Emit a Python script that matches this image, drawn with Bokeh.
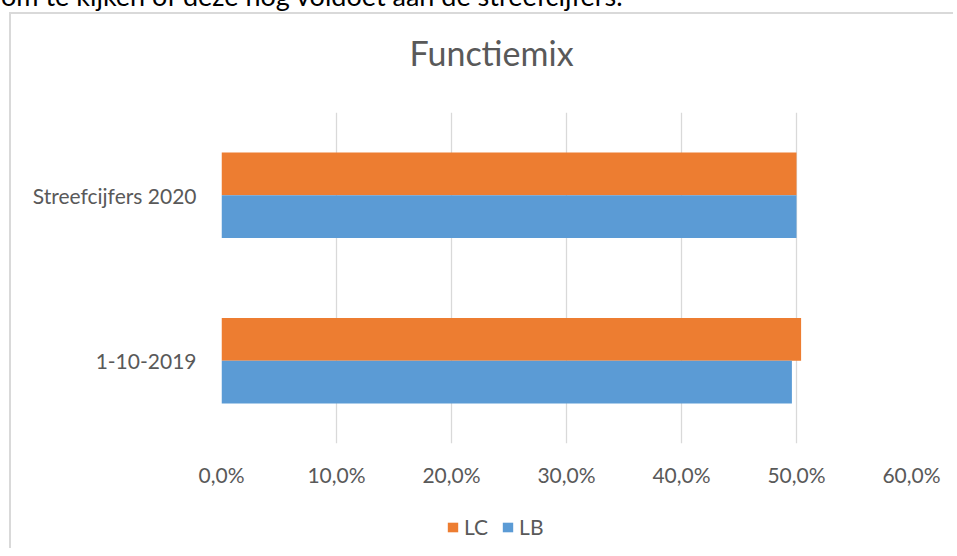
from bokeh.plotting import figure
from bokeh.models import (ColumnDataSource, FactorRange, Range1d, FixedTicker,
                          CustomJSTickFormatter, Legend, LegendItem, Div, Title)
from bokeh.transform import dodge
from bokeh.embed import file_html
from bokeh.resources import INLINE

categories = ["1-10-2019", "Streefcijfers 2020"]
lc_values = [50.4, 50.0]
lb_values = [49.6, 50.0]
x_ticks = [0, 10, 20, 30, 40, 50, 60]
series_names = ["LC", "LB"]
title_text = "Functiemix"
above_text = "om te kijken of deze nog voldoet aan de streefcijfers."

ORANGE = "#ED7D31"
BLUE = "#5B9BD5"
GRID = "#D9D9D9"
TEXT = "#595959"
FONT = "Lato"

src = ColumnDataSource(dict(cat=categories, lc=lc_values, lb=lb_values))

div = Div(text='<div style="position:relative; top:-18px; left:1px; white-space:nowrap">'
               + above_text + '</div>',
          width=944, height=12, margin=(0, 0, 0, 0),
          styles={"overflow": "hidden", "font-family": "Lato", "font-size": "27px",
                  "line-height": "27px", "color": "#000000"})

# ---- main chart ----
p = figure(width=944, height=486,
           y_range=FactorRange(factors=categories, range_padding=0),
           x_range=Range1d(0, 60),
           output_backend="svg", toolbar_location=None,
           min_border_left=210, min_border_right=44,
           min_border_top=98, min_border_bottom=57)
p.styles = {"margin-left": "9px", "border-left": "2px solid #D9D9D9",
            "border-top": "2px solid #D9D9D9"}

r_lc = p.hbar(y=dodge("cat", 0.1295, range=p.y_range), left=0, right="lc",
              height=0.259, fill_color=ORANGE, line_color=None, source=src)
r_lb = p.hbar(y=dodge("cat", -0.1295, range=p.y_range), left=0, right="lb",
              height=0.259, fill_color=BLUE, line_color=None, source=src)

p.outline_line_color = None
p.ygrid.grid_line_color = None
p.xgrid.grid_line_color = GRID
p.xgrid.grid_line_width = 1.3

p.xaxis.ticker = FixedTicker(ticks=x_ticks)
p.xaxis.formatter = CustomJSTickFormatter(code="return tick.toFixed(1).replace('.', ',') + '%';")
for ax in (p.xaxis[0], p.yaxis[0]):
    ax.axis_line_color = None
    ax.major_tick_line_color = None
    ax.minor_tick_line_color = None
    ax.major_tick_out = 0
    ax.major_tick_in = 0
    ax.major_label_text_font = FONT
    ax.major_label_text_font_size = "21px"
    ax.major_label_text_color = TEXT
p.xaxis.major_label_standoff = 18
p.yaxis.major_label_standoff = 25

# spacer (nearest the frame), then the chart title above it
p.add_layout(Title(text=" ", text_font=FONT, text_font_size="20px", standoff=14), "above")
p.add_layout(Title(text=title_text, text_font=FONT, text_font_size="34px",
                   text_font_style="normal", text_color=TEXT, align="left",
                   offset=188, standoff=0), "above")

# ---- legend strip (continues the chart box below) ----
q = figure(width=944, height=50, output_backend="svg", toolbar_location=None,
           x_axis_type=None, y_axis_type=None, min_border=0,
           x_range=Range1d(0, 1), y_range=Range1d(0, 1))
q.styles = {"margin-left": "9px", "border-left": "2px solid #D9D9D9"}
q.outline_line_color = None
q.xgrid.visible = False
q.ygrid.visible = False
# legend-key renderers for the two series (hidden; only their legend keys are shown)
k_lc = q.hbar(y="lc", left=0, right="lc", height=0.5, fill_color=ORANGE,
              line_color=None, source=src, visible=False)
k_lb = q.hbar(y="lb", left=0, right="lb", height=0.5, fill_color=BLUE,
              line_color=None, source=src, visible=False)

legend = Legend(items=[LegendItem(label=series_names[0], renderers=[k_lc]),
                       LegendItem(label=series_names[1], renderers=[k_lb])],
                orientation="horizontal", location=(435, 9),
                border_line_color=None, background_fill_alpha=0,
                inactive_fill_alpha=0,
                padding=0, margin=0, spacing=13, glyph_width=13, glyph_height=12,
                label_standoff=5, label_height=20,
                label_text_font=FONT, label_text_font_size="21px", label_text_color=TEXT)
q.add_layout(legend)

open("out.html", "w").write(file_html([div, p, q], INLINE))
